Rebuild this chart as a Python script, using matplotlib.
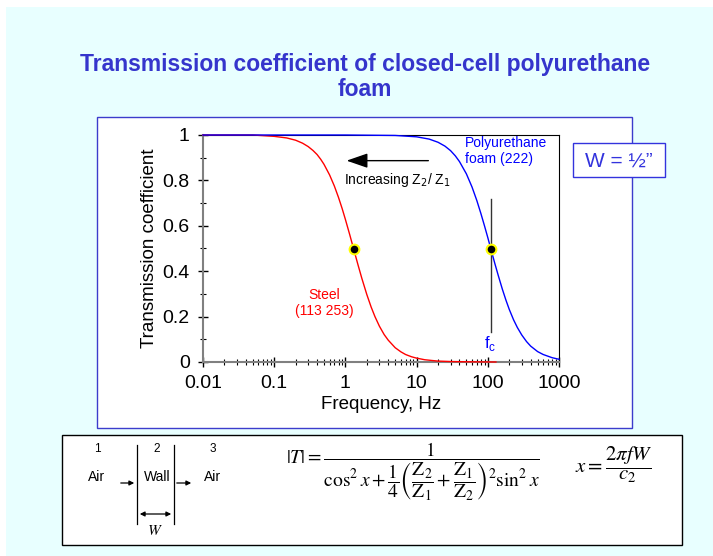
import numpy as np
import matplotlib.pyplot as plt
from matplotlib.patches import Rectangle

# values
freq_steel = [0.01, 0.05, 0.1, 0.15, 0.2, 0.25, 0.3, 0.35, 0.4, 0.45, 0.5, 0.6, 0.7, 0.8,
              0.9, 1.0, 1.15, 1.3, 1.5, 1.7, 2.0, 2.3, 2.6, 3.0, 3.5, 4.0, 5.0, 6.0,
              7.0, 8.5, 10, 13, 16, 20, 30, 50, 130]
t_steel = [1.0, 1.0, 0.994, 0.987, 0.977, 0.964, 0.949, 0.932, 0.914, 0.893, 0.871,
           0.824, 0.775, 0.725, 0.676, 0.628, 0.561, 0.50, 0.429, 0.369, 0.297, 0.242,
           0.20, 0.158, 0.121, 0.096, 0.063, 0.045, 0.033, 0.023, 0.017, 0.010, 0.007,
           0.004, 0.002, 0.001, 0.0]
freq_foam = [0.01, 1, 5, 10, 15, 20, 25, 30, 35, 40, 50, 60, 70, 80, 90, 100, 110, 125,
             140, 160, 180, 200, 230, 260, 300, 350, 400, 500, 600, 800, 1000]
t_foam = [1.0, 1.0, 0.998, 0.992, 0.982, 0.968, 0.951, 0.931, 0.908, 0.883, 0.829,
          0.771, 0.712, 0.654, 0.599, 0.548, 0.50, 0.436, 0.382, 0.321, 0.272, 0.232,
          0.186, 0.152, 0.119, 0.090, 0.070, 0.046, 0.033, 0.019, 0.012]
half_freq = [1.3, 110]
half_t = [0.5, 0.5]
fc_freq = 110
fc_span = (0.13, 0.72)

xticks = [0.01, 0.1, 1, 10, 100, 1000]
xticklabels = ['0.01', '0.1', '1', '10', '100', '1000']
yticks = [0, 0.2, 0.4, 0.6, 0.8, 1.0]
yticklabels = ['0', '0.2', '0.4', '0.6', '0.8', '1']

plt.rcParams['font.family'] = ['Liberation Sans', 'DejaVu Sans']

W, H = 713, 556
fig = plt.figure(figsize=(W / 100, H / 100), dpi=100, facecolor='white')

# background layer in pixel coordinates
bg = fig.add_axes([0, 0, 1, 1], zorder=-1)
bg.set_xlim(0, W)
bg.set_ylim(H, 0)
bg.axis('off')
bg.add_patch(Rectangle((6, 7), W - 6, H - 7, facecolor='#e8ffff', edgecolor='none'))
# white panel behind the chart
bg.add_patch(Rectangle((97, 117), 535, 311, facecolor='white', edgecolor='#3c3ccc', lw=1))
# W box
bg.add_patch(Rectangle((573, 143), 92, 34, facecolor='white', edgecolor='#3333dd', lw=1))
bg.text(619, 161, 'W = ½”', color='#3333dd', fontsize=15, ha='center', va='center')

# title
blue = '#3535cc'
bg.text(365, 64, 'Transmission coefficient of closed-cell polyurethane',
        color=blue, fontsize=16.5, fontweight='bold', ha='center', va='center')
bg.text(365, 90, 'foam', color=blue, fontsize=16.5, fontweight='bold', ha='center', va='center')

# bottom box with wall sketch and formulas
bg.add_patch(Rectangle((62, 435), 620, 110, facecolor='white', edgecolor='black', lw=1))
for x, n, lbl in [(97, '1', 'Air'), (157, '2', 'Wall'), (213, '3', 'Air')]:
    bg.text(x, 449, n, fontsize=8.5, ha='center', va='center')
    bg.text(x, 477, lbl, fontsize=10, ha='center', va='center')
bg.plot([137, 137], [445, 524], color='black', lw=0.9)
bg.plot([174, 174], [445, 524], color='black', lw=0.9)
bg.annotate('', xy=(137, 483), xytext=(118, 483),
            arrowprops=dict(arrowstyle='-|>', color='black', lw=0.9, mutation_scale=7))
bg.annotate('', xy=(194, 483), xytext=(174, 483),
            arrowprops=dict(arrowstyle='-|>', color='black', lw=0.9, mutation_scale=7))
bg.annotate('', xy=(137, 514), xytext=(174, 514),
            arrowprops=dict(arrowstyle='<|-|>', color='black', lw=0.9, mutation_scale=7))
bg.text(155, 531, '$W$', math_fontfamily='stix', fontsize=11, ha='center', va='center')
bg.text(286, 472,
        r'$|T|=\dfrac{1}{\cos^2x+\dfrac{1}{4}\left(\dfrac{\mathrm{Z}_2}{\mathrm{Z}_1}'
        r'+\dfrac{\mathrm{Z}_1}{\mathrm{Z}_2}\right)^2\sin^2x}$',
        math_fontfamily='stix', fontsize=14, ha='left', va='center')
bg.text(575, 465, r'$x=\dfrac{2\pi fW}{c_2}$', math_fontfamily='stix', fontsize=15,
        ha='left', va='center')

# main chart
ax = fig.add_axes([203 / W, 1 - 362 / H, 356 / W, 227 / H], zorder=1)
ax.set_xscale('log')
ax.set_xlim(0.01, 1000)
ax.set_ylim(0, 1)

ax.plot(freq_steel, t_steel, color='#ff0000', lw=1, clip_on=False, zorder=3)
ax.plot(freq_foam, t_foam, color='#0000ff', lw=1, clip_on=False, zorder=3)
ax.plot([fc_freq, fc_freq], fc_span, color='#333333', lw=1, zorder=2)
ax.plot(half_freq, half_t, 'o', color='black', markeredgecolor='#ffff00', markersize=7,
        markeredgewidth=1.5, zorder=4)

ax.annotate('', xy=(0.95, 0.887), xytext=(16, 0.887),
            arrowprops=dict(arrowstyle='-|>,head_length=1.3,head_width=0.45',
                            color='black', lw=1, mutation_scale=10))
ax.text(0.95, 0.80, 'Increasing Z$_2$/ Z$_1$', fontsize=10, ha='left', va='center')
ax.text(48, 0.93, 'Polyurethane\nfoam (222)', color='#0000ff', fontsize=10,
        ha='left', va='center', linespacing=1.15)
ax.text(0.5, 0.26, 'Steel\n(113 253)', color='#ff0000', fontsize=10,
        ha='center', va='center', linespacing=1.2)
ax.text(107, 0.08, r'f$_\mathregular{c}$', color='#0000ff', fontsize=12,
        ha='center', va='center')

ax.set_xticks(xticks)
ax.set_xticklabels(xticklabels)
ax.set_yticks(yticks)
ax.set_yticklabels(yticklabels)
ax.set_yticks(np.arange(0.1, 1.0, 0.2), minor=True)
ax.tick_params(which='major', direction='inout', length=7, width=1, labelsize=14, pad=6)
ax.tick_params(which='minor', direction='inout', length=5, width=0.8)
ax.tick_params(axis='x', which='minor', labelbottom=False)

for s in ['left', 'bottom']:
    ax.spines[s].set_color('#808080')
    ax.spines[s].set_linewidth(1.5)
for s in ['top', 'right']:
    ax.spines[s].set_color('black')
    ax.spines[s].set_linewidth(0.8)

ax.set_xlabel('Frequency, Hz', fontsize=13.5, labelpad=3)
ax.set_ylabel('Transmission coefficient', fontsize=13.5, labelpad=3)

fig.savefig('out.png', dpi=100, facecolor=fig.get_facecolor())
